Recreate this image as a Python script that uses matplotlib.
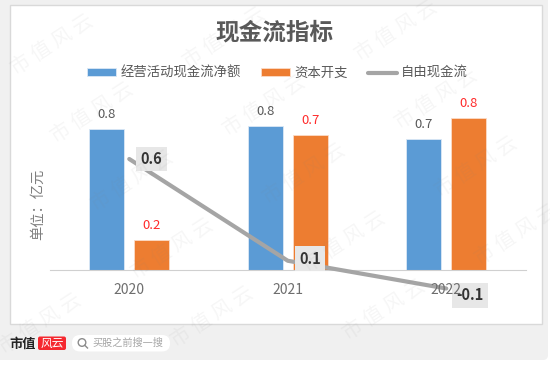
import matplotlib
matplotlib.use('Agg')
import matplotlib.pyplot as plt
from matplotlib.patches import FancyBboxPatch, Rectangle, Circle

plt.rcParams['font.family'] = ['Noto Sans CJK SC', 'DejaVu Sans']

years = ['2020', '2021', '2022']
operating = [0.76, 0.78, 0.71]
capex = [0.16, 0.73, 0.82]
free_cash = [0.6, 0.05, -0.1]
operating_labels = ['0.8', '0.8', '0.7']
capex_labels = ['0.2', '0.7', '0.8']
free_labels = ['0.6', '0.1', '-0.1']

W, H = 550, 365
fig = plt.figure(figsize=(W / 100, H / 100), dpi=100, facecolor='white')

# page furniture in pixel coordinates
bg = fig.add_axes([0, 0, 1, 1], zorder=0)
bg.set_xlim(0, W)
bg.set_ylim(H, 0)
bg.axis('off')
bg.add_patch(FancyBboxPatch((-20, -20), 568, 380, boxstyle='round,pad=0,rounding_size=5',
                            fc='#f0f0f0', ec='none'))
bg.add_patch(Rectangle((9.5, 5), 532, 319, fc='white', ec='#d9d9d9', lw=1))

# footer
bg.text(23, 344, '市值', fontsize=9.5, fontweight='bold', color='#222222', ha='center', va='center')
bg.add_patch(FancyBboxPatch((38, 336.5), 28, 13.5, boxstyle='round,pad=0,rounding_size=2',
                            fc='#f5282f', ec='none'))
bg.text(52, 343, '风云', fontsize=8.5, color='white', style='italic', ha='center', va='center')
bg.add_patch(FancyBboxPatch((72, 335), 98, 16.5, boxstyle='round,pad=0,rounding_size=8',
                            fc='white', ec='none'))
bg.add_patch(Circle((82, 342.5), 3.8, fc='none', ec='#8c8c8c', lw=1))
bg.plot([84.8, 87.5], [345.3, 348], color='#8c8c8c', lw=1)
bg.text(92, 343, '买股之前搜一搜', fontsize=7.3, color='#a6a6a6', ha='left', va='center')

# chart
ax = fig.add_axes([50 / W, 1 - 310 / H, 475.5 / W, 210 / H], zorder=1)
ax.patch.set_alpha(0)
x = list(range(len(years)))
bw = 0.222
off = 0.142
b1 = ax.bar([i - off for i in x], operating, bw, color='#5b9bd5', edgecolor='#dbe8f5', lw=0.6,
            label='经营活动现金流净额')
b2 = ax.bar([i + off for i in x], capex, bw, color='#ed7d31', edgecolor='#fbdcc8', lw=0.6,
            label='资本开支')
line, = ax.plot(x, free_cash, color='#a5a5a5', lw=3, solid_capstyle='round',
                solid_joinstyle='round', label='自由现金流', zorder=3)

for i in x:
    ax.annotate(operating_labels[i], (i - off, operating[i]), xytext=(0, 10.5), textcoords='offset points',
                ha='center', va='center', fontsize=9.5, color='#595959')
    ax.annotate(capex_labels[i], (i + off, capex[i]), xytext=(0, 10.5), textcoords='offset points',
                ha='center', va='center', fontsize=9.5, color='#ff2b2b')

box_offsets = [(16, 0), (16, 1.5), (17, -5)]
for i in x:
    ax.annotate(free_labels[i], (i, free_cash[i]), xytext=box_offsets[i], textcoords='offset points',
                ha='center', va='center', fontsize=10.5, fontweight='bold', color='#333333', zorder=4,
                bbox=dict(boxstyle='square,pad=0.3', fc='#e7e7e7', ec='none'))

ax.set_xlim(-0.5, 2.5)
ax.set_ylim(-40 / 185, 170 / 185)
ax.set_yticks([])
ax.set_xticks(x)
ax.set_xticklabels(years, fontsize=9)
ax.tick_params(axis='x', length=0, pad=9.5, labelcolor='#6e6e6e')
ax.xaxis.set_zorder(5)  # 2022 stays readable over the grey box
for s in ['top', 'left', 'right']:
    ax.spines[s].set_visible(False)
ax.spines['bottom'].set_position('zero')
ax.spines['bottom'].set_color('#d0d0d0')

ax.legend(handles=[b1, b2, line], ncol=3, frameon=False, loc='center', bbox_to_anchor=(227.5 / 475.5, (310 - 73) / 210),
          fontsize=9.6, labelcolor='#595959', handlelength=2.2, handleheight=0.5, handletextpad=0.3,
          columnspacing=1.5)

fig.text(275 / W, 1 - 32 / H, '现金流指标', fontsize=17, fontweight='bold', color='#595959',
         ha='center', va='center', zorder=5)
fig.text(38 / W, 1 - 204 / H, '单位：亿元', fontsize=10.3, color='#7f7f7f', rotation=90,
         ha='center', va='center', zorder=5)

# watermark on top of everything
wm = fig.add_axes([0, 0, 1, 1], zorder=6)
wm.set_xlim(0, W)
wm.set_ylim(H, 0)
wm.axis('off')
wm.patch.set_alpha(0)
for row in range(6):
    for col in range(5):
        wx = 52 + 40 * row + 172 * col - 172
        wy = 52 + 68 * row - 7 * col
        if 0 < wx < W and 0 < wy < H:
            wm.text(wx, wy, '市 值 风 云', fontsize=14.5, color='#808080', alpha=0.07, rotation=33,
                    ha='center', va='center', clip_on=True)

fig.savefig('out.png', dpi=100)
